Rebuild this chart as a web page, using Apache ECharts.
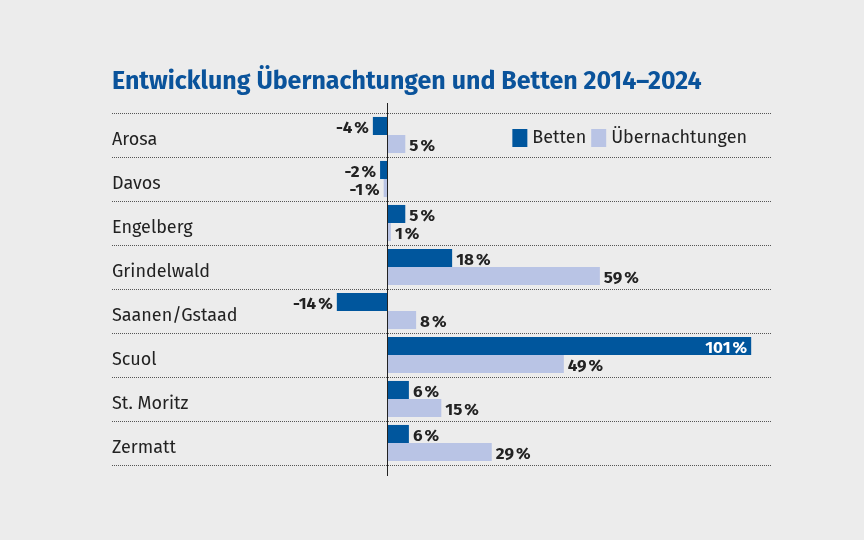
<!DOCTYPE html>
<html><head><meta charset="utf-8">
<script src="https://cdn.jsdelivr.net/npm/echarts@6/dist/echarts.min.js"></script>
<style>html,body{margin:0;padding:0;background:#ececec;}#c{width:864px;height:540px;}</style>
</head><body><div id="c"></div>
<script>
const categories = ['Arosa','Davos','Engelberg','Grindelwald','Saanen/Gstaad','Scuol','St. Moritz','Zermatt'];
const betten = [-4,-2,5,18,-14,101,6,6];
const uebernachtungen = [5,-1,1,59,8,49,15,29];
const titleText = 'Entwicklung Übernachtungen und Betten 2014–2024';
const FONT = '"Fira Sans", Roboto, "Noto Sans", sans-serif';
const pct = v => v + '\u202f%';

function labelled(vals, specialInside) {
  return vals.map((v, i) => {
    const inside = specialInside && v > 100;
    return {
      value: v,
      label: {
        show: true,
        position: inside ? 'insideRight' : (v < 0 ? 'left' : 'right'),
        distance: 4,
        offset: [0, 2],
        color: inside ? '#ffffff' : '#222222',
        fontWeight: 'bold', fontSize: 17, fontFamily: FONT,
        formatter: p => pct(p.value)
      }
    };
  });
}

const chart = echarts.init(document.getElementById('c'));
const option = {
  backgroundColor: '#ececec',
  animation: false,
  title: {
    text: titleText, left: 107, top: 65,
    textStyle: { color: '#0a539b', fontSize: 25, fontWeight: 'bold', fontFamily: FONT }
  },
  legend: {
    data: ['Betten','Übernachtungen'],
    right: 112, top: 124,
    itemWidth: 15, itemHeight: 18, itemGap: 5,
    icon: 'rect',
    textStyle: { color: '#222', fontSize: 18, fontFamily: FONT }
  },
  grid: { left: 112, right: 93, top: 113, bottom: 75 },
  xAxis: {
    type: 'value', min: -76.4, max: 106.5,
    show: false, splitLine: { show: false }
  },
  yAxis: {
    type: 'category', data: categories, inverse: true,
    axisLine: { show: false, onZero: false }, axisTick: { show: false },
    axisLabel: {
      inside: true, margin: 0, align: 'left',
      formatter: v => '{a|' + v + '}',
      rich: { a: { color: '#222', fontSize: 18, fontFamily: FONT, padding: [9, 0, 0, 0] } }
    },
    splitLine: { show: true, lineStyle: { type: 'dotted', color: '#555', width: 1 } }
  },
  series: [
    { name: 'Betten', type: 'bar', data: labelled(betten, true), itemStyle: { color: '#00569d' },
      barGap: '0%', barCategoryGap: '18%' },
    { name: 'Übernachtungen', type: 'bar', data: labelled(uebernachtungen, false), itemStyle: { color: '#b9c4e5' },
      barGap: '0%', barCategoryGap: '18%' }
  ]
};
chart.setOption(option);
const x0 = chart.convertToPixel({ xAxisIndex: 0 }, 0);
const yTop = chart.convertToPixel({ yAxisIndex: 0 }, categories[0]) - 32;
const yBot = chart.convertToPixel({ yAxisIndex: 0 }, categories[categories.length-1]) + 33;
chart.setOption({
  graphic: [{ type: 'line', z: 100, shape: { x1: Math.round(x0)+0.5, y1: yTop, x2: Math.round(x0)+0.5, y2: yBot },
    style: { stroke: '#222', lineWidth: 1 } }]
});
</script></body></html>
